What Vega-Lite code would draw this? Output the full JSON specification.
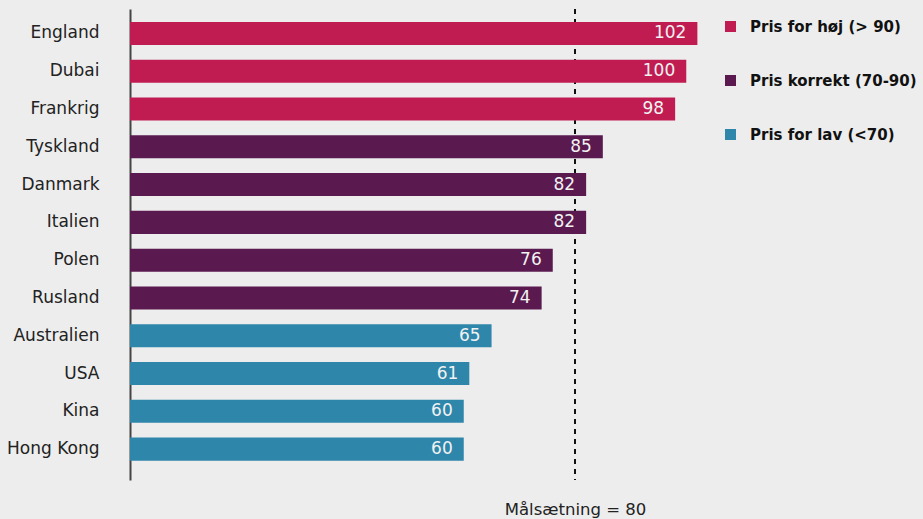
{
  "$schema": "https://vega.github.io/schema/vega-lite/v6.json",
  "autosize": "none",
  "padding": {"left": 130, "top": 9, "right": 223, "bottom": 39},
  "width": 570,
  "height": 471,
  "background": "#EDEDED",
  "data": {"values": [
    {"land": "England", "pris": 102, "kategori": "Pris for høj (> 90)"},
    {"land": "Dubai", "pris": 100, "kategori": "Pris for høj (> 90)"},
    {"land": "Frankrig", "pris": 98, "kategori": "Pris for høj (> 90)"},
    {"land": "Tyskland", "pris": 85, "kategori": "Pris korrekt (70-90)"},
    {"land": "Danmark", "pris": 82, "kategori": "Pris korrekt (70-90)"},
    {"land": "Italien", "pris": 82, "kategori": "Pris korrekt (70-90)"},
    {"land": "Polen", "pris": 76, "kategori": "Pris korrekt (70-90)"},
    {"land": "Rusland", "pris": 74, "kategori": "Pris korrekt (70-90)"},
    {"land": "Australien", "pris": 65, "kategori": "Pris for lav (<70)"},
    {"land": "USA", "pris": 61, "kategori": "Pris for lav (<70)"},
    {"land": "Kina", "pris": 60, "kategori": "Pris for lav (<70)"},
    {"land": "Hong Kong", "pris": 60, "kategori": "Pris for lav (<70)"}
  ]},
  "config": {
    "view": {"stroke": null},
    "font": "DejaVu Sans"
  },
  "encoding": {
    "y": {
      "field": "land", "type": "nominal", "sort": null,
      "scale": {"paddingInner": 0.39, "paddingOuter": 0.427, "align": 0.4},
      "axis": {
        "title": null, "ticks": false, "labelPadding": 31,
        "labelFont": "DejaVu Sans", "labelFontSize": 17, "labelColor": "#222222",
        "domainColor": "#444444", "domainWidth": 2, "grid": false
      }
    }
  },
  "layer": [
    {
      "mark": {"type": "rule", "color": "#111111", "strokeWidth": 1.5, "strokeDash": [5, 5]},
      "encoding": {
        "x": {"datum": 80, "type": "quantitative"},
        "y": null
      }
    },
    {
      "mark": {"type": "bar"},
      "encoding": {
        "x": {
          "field": "pris", "type": "quantitative",
          "scale": {"domain": [0, 102.47], "nice": false, "zero": true},
          "axis": {
            "title": "Målsætning = 80", "labels": false, "ticks": false, "domain": false, "grid": false,
            "titleX": 445, "titleY": 34, "titleAlign": "center", "titleBaseline": "alphabetic",
            "titleFont": "DejaVu Sans", "titleFontSize": 16.5, "titleFontWeight": "normal", "titleColor": "#222222"
          }
        },
        "color": {
          "field": "kategori", "type": "nominal",
          "scale": {
            "domain": ["Pris for høj (> 90)", "Pris korrekt (70-90)", "Pris for lav (<70)"],
            "range": ["#C01C52", "#5A1A50", "#2E86AB"]
          },
          "legend": {
            "title": null, "orient": "none", "legendX": 593, "legendY": 10,
            "symbolType": "square", "symbolSize": 121, "symbolStrokeWidth": 0,
            "labelFont": "DejaVu Sans", "labelFontSize": 15, "labelFontWeight": "bold",
            "labelColor": "#111111", "labelOffset": 12, "rowPadding": 38, "labelLimit": 300
          }
        }
      }
    },
    {
      "mark": {"type": "text", "align": "right", "baseline": "middle", "dx": -11, "fontSize": 17, "color": "#F2F2F2", "font": "DejaVu Sans"},
      "encoding": {
        "x": {"field": "pris", "type": "quantitative"},
        "text": {"field": "pris", "type": "quantitative"}
      }
    }
  ]
}
